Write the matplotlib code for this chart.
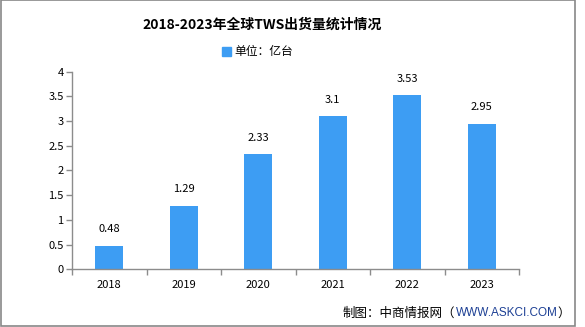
import matplotlib
matplotlib.use("Agg")
import matplotlib.pyplot as plt
from matplotlib.patches import Rectangle, Patch

plt.rcParams['font.family'] = ['Noto Sans CJK SC', 'DejaVu Sans']

years = ["2018", "2019", "2020", "2021", "2022", "2023"]
shipments = [0.48, 1.29, 2.33, 3.1, 3.53, 2.95]
value_labels = ["0.48", "1.29", "2.33", "3.1", "3.53", "2.95"]
yticks = [0, 0.5, 1, 1.5, 2, 2.5, 3, 3.5, 4]
ytick_labels = ["0", "0.5", "1", "1.5", "2", "2.5", "3", "3.5", "4"]

bar_color = "#3d9df3"
axis_color = "#8c8c8c"

fig = plt.figure(figsize=(5.85, 3.27), dpi=100)
ax = fig.add_axes([0.1231, 0.1765, 0.7641, 0.6042])

x = list(range(len(years)))
ax.bar(x, shipments, width=0.37, color=bar_color, zorder=2)
for xi, v, lab in zip(x, shipments, value_labels):
    ax.annotate(lab, (xi, v), xytext=(0, 8), textcoords="offset points",
                ha="center", va="bottom", fontsize=8, color="black")

ax.set_xlim(-0.5, len(years) - 0.5)
ax.set_ylim(0, 4)
ax.set_yticks(yticks)
ax.set_yticklabels(ytick_labels, fontsize=8)
ax.set_xticks(x)
ax.set_xticklabels(years, fontsize=8)
ax.set_xticks([i - 0.5 for i in range(len(years) + 1)], minor=True)
ax.tick_params(axis="x", which="major", length=0, pad=8)
ax.tick_params(axis="x", which="minor", length=4, color=axis_color, width=1)
ax.tick_params(axis="y", length=4, color=axis_color, width=1, pad=2)

for s in ["top", "right"]:
    ax.spines[s].set_visible(False)
for s in ["left", "bottom"]:
    ax.spines[s].set_color(axis_color)
    ax.spines[s].set_linewidth(1)

fig.text(0.449, 0.923, "2018-2023年全球TWS出货量统计情况", ha="center", va="center",
         fontsize=10, fontweight="bold")
fig.legend(handles=[Patch(color=bar_color, label="单位：亿台")], loc="center",
           bbox_to_anchor=(0.44, 0.841), frameon=False, fontsize=8.5,
           handlelength=0.8, handleheight=0.8, handletextpad=0.3)

# source line, pieces chained one after another
t1 = fig.text(343 / 585, 0.043, "制图：中商情报网（", ha="left", va="center", fontsize=9)
t2 = ax.annotate("WWW.ASKCI.COM", xy=(1, 0.5), xycoords=t1, ha="left", va="center",
                 fontsize=8.5, color="#1c3f94", family=["Liberation Sans", "DejaVu Sans"],
                 annotation_clip=False)
ax.annotate("）", xy=(1, 0.5), xycoords=t2, ha="left", va="center", fontsize=9,
            annotation_clip=False)

fig.patches.append(Rectangle((0.001, 0.004), 0.982, 0.995, transform=fig.transFigure,
                             fill=False, edgecolor="#888888", linewidth=1.2))

fig.savefig("out.png", dpi=100)
